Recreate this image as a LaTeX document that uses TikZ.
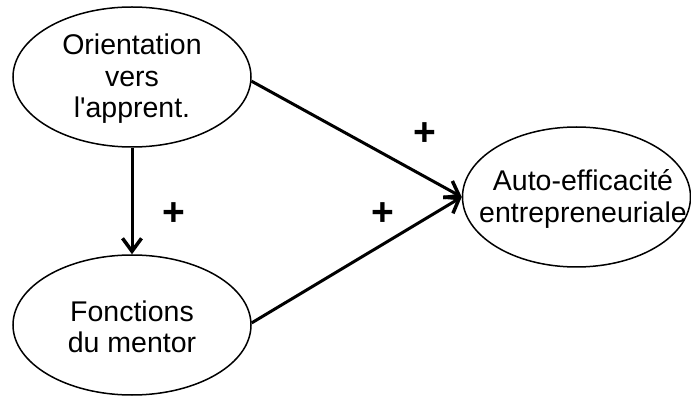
\documentclass[tikz,border=0pt]{standalone}
\usepackage{fontspec}
\setmainfont{Liberation Sans}[Ligatures=TeXOff]
\usetikzlibrary{shapes.geometric,arrows.meta}
\tikzset{
  ell/.style={ellipse, draw=black, line width=1.5pt, inner sep=0pt, minimum width=238pt, minimum height=140pt},
  txt/.style={align=center, font=\fontsize{28.5}{31.5}\selectfont},
  plus/.style={font=\fontsize{39}{40}\selectfont\bfseries, inner sep=0pt},
  conn/.style={line width=3pt, -{Straight Barb[length=13pt,width=19pt,line width=3.5pt]}}
}
\begin{document}
\begin{tikzpicture}[x=1pt,y=-1pt]
\useasboundingbox (0,0) rectangle (691,398);
\node[ell] (orient) at (132,77) {};
\node[txt] (orienttext) at (132,79) {Orientation\\vers\\l'apprent.};
\node[ell] (mentor) at (132,325) {};
\node[txt] (mentortext) at (132,327) {Fonctions\\du mentor};
\node[ell, minimum width=228pt] (auto) at (576.5,197) {};
\node[txt] (autotext) at (583,199) {Auto-efficacité\\entrepreneuriale};
\draw[conn] (orient.south) -- (mentor.north);
\draw[conn] (orient.-2) -- (auto.west);
\draw[conn] (mentor.1) -- (auto.west);
\node[plus] (p1) at (425,134) {+};
\node[plus] (p2) at (174,214) {+};
\node[plus] (p3) at (383,214) {+};
\end{tikzpicture}
\end{document}
